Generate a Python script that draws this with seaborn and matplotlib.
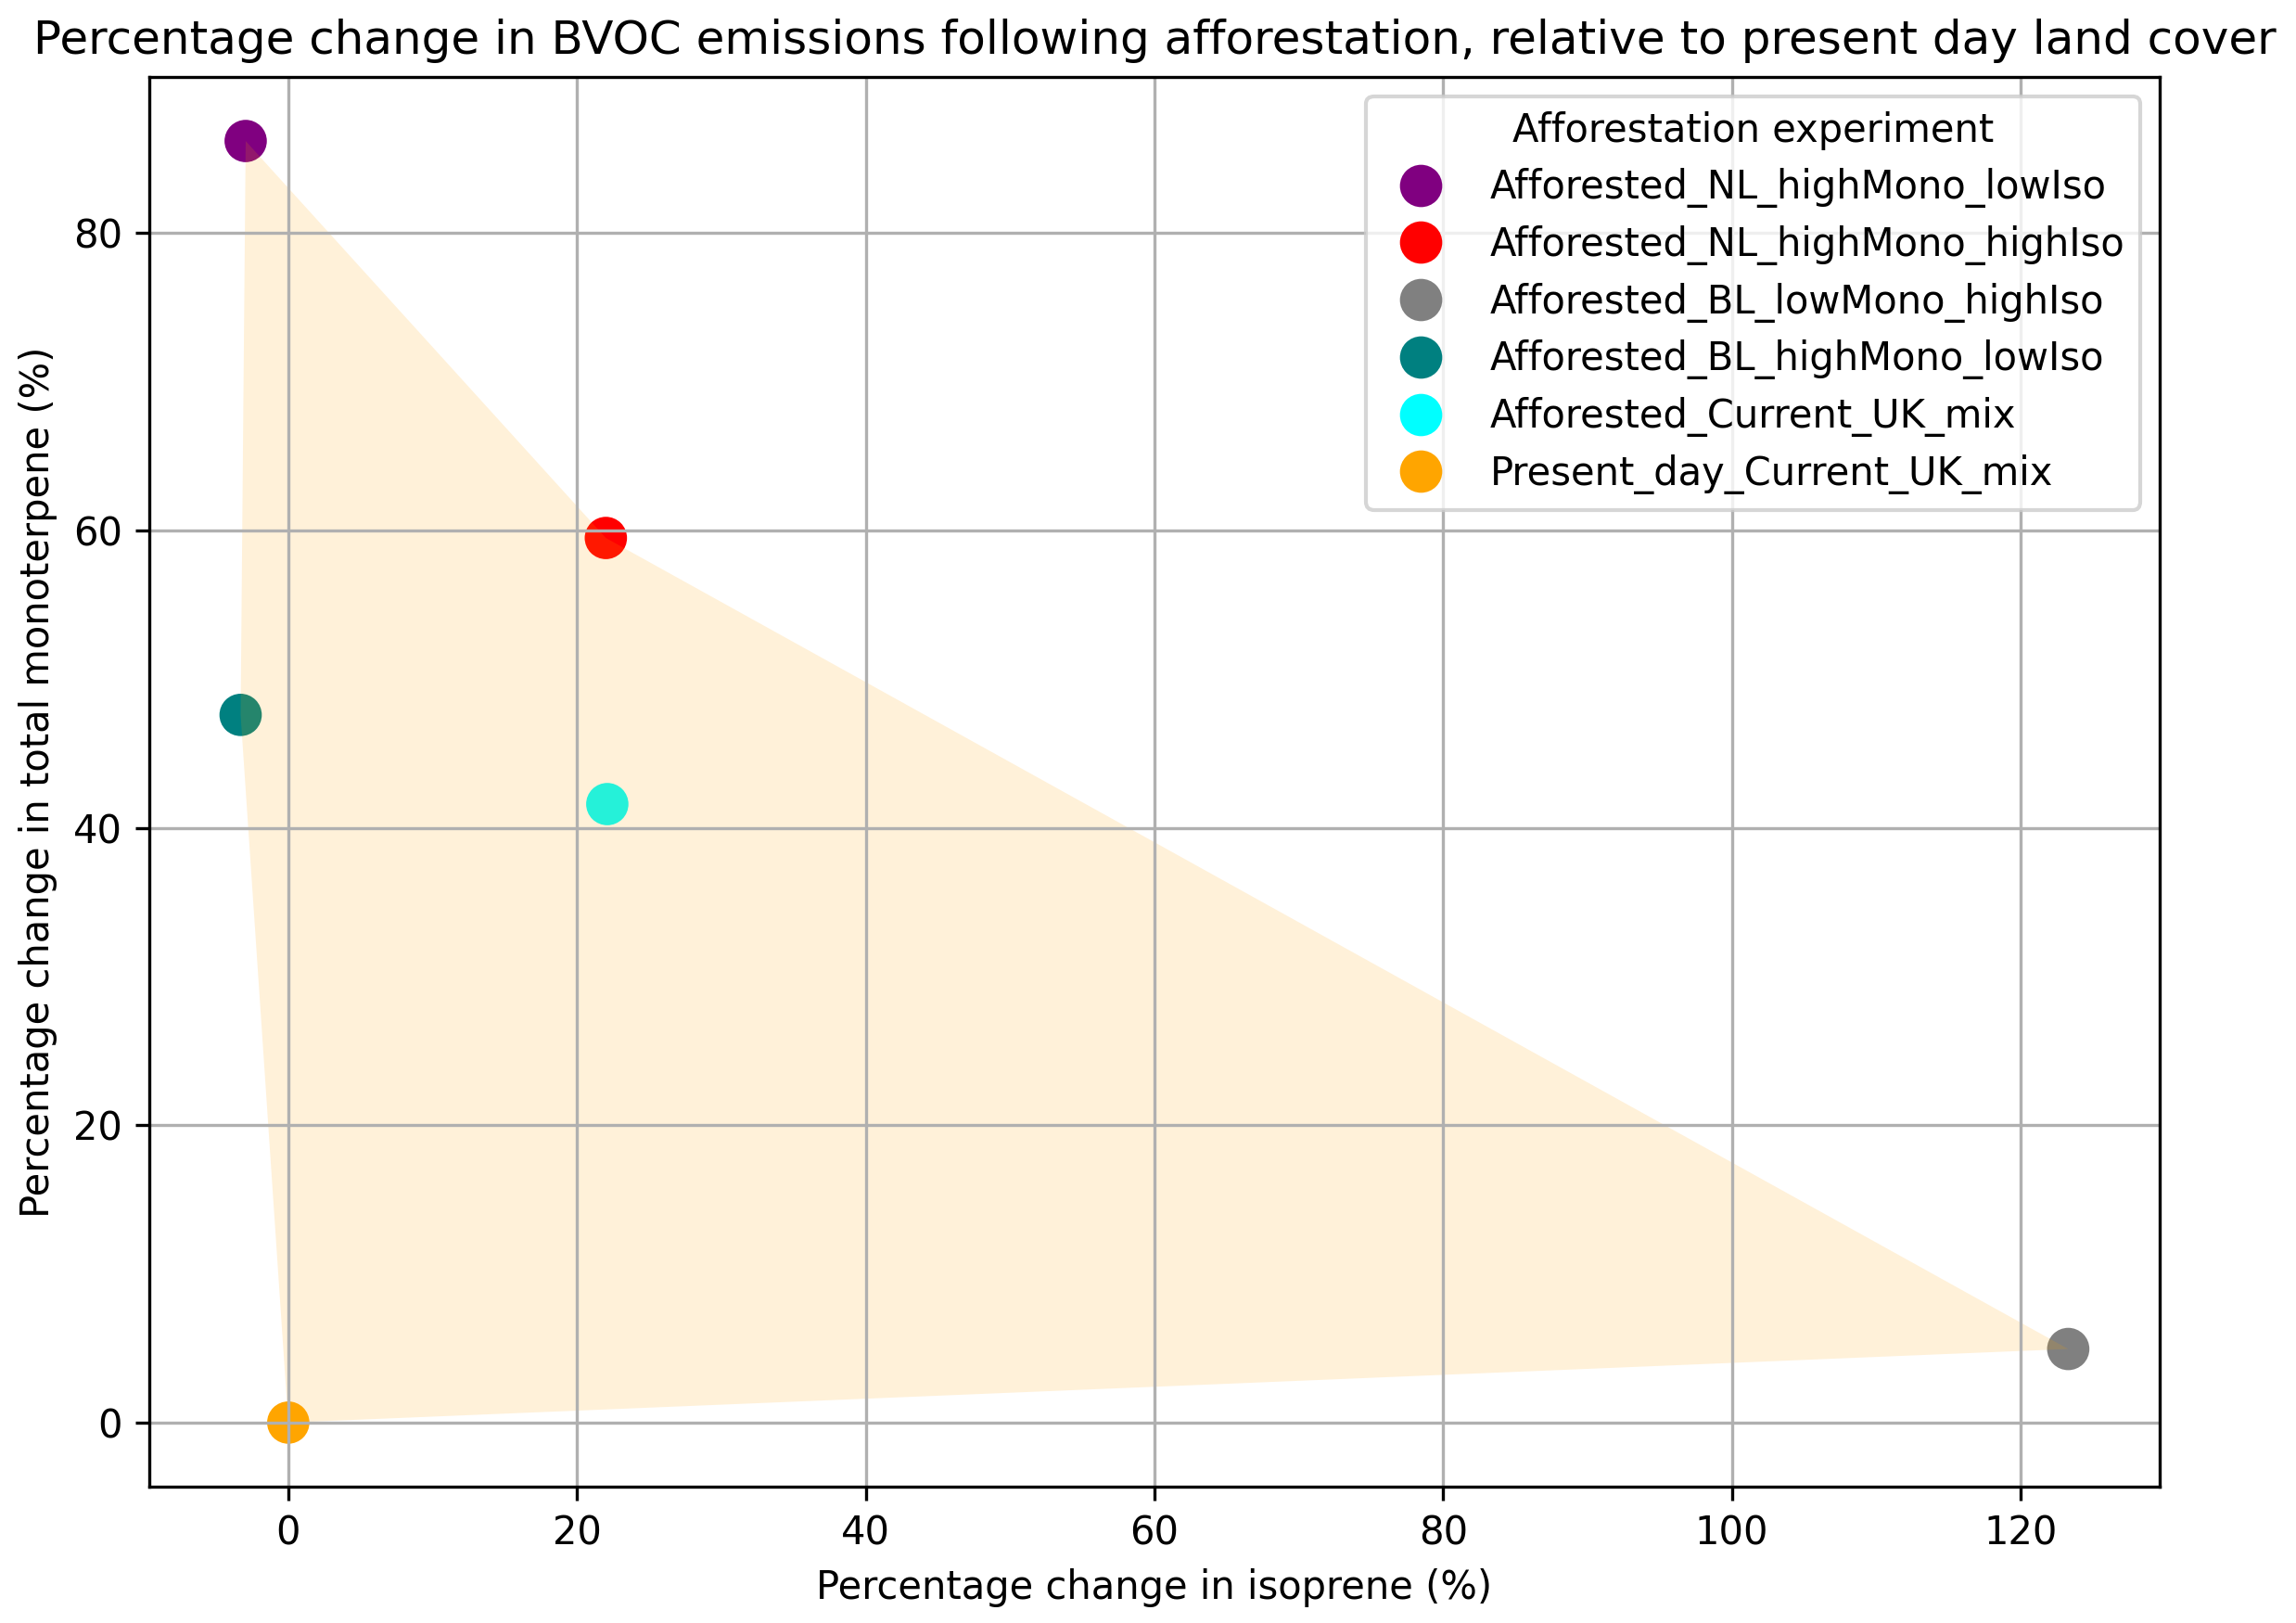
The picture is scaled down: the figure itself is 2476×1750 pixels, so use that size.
import numpy as np
import pandas as pd
import seaborn as sns
import matplotlib.pyplot as plt

experiments = ['Afforested_NL_highMono_lowIso', 'Afforested_NL_highMono_highIso',
               'Afforested_BL_lowMono_highIso', 'Afforested_BL_highMono_lowIso',
               'Afforested_Current_UK_mix', 'Present_day_Current_UK_mix']
isoprene_change = [-2.95, 22.0, 123.3, -3.3, 22.1, 0.0]
monoterpene_change = [86.2, 59.5, 4.95, 47.6, 41.6, 0.0]
colors = ['purple', 'red', 'grey', 'teal', 'cyan', 'orange']

# outline of the shaded region, as experiment order
region_order = ['Afforested_NL_highMono_lowIso', 'Afforested_NL_highMono_highIso',
                'Afforested_BL_lowMono_highIso', 'Present_day_Current_UK_mix',
                'Afforested_BL_highMono_lowIso']

df = pd.DataFrame({'Afforestation experiment': experiments,
                   'isoprene': isoprene_change,
                   'monoterpene': monoterpene_change})

fig, ax = plt.subplots(figsize=(2476 / 300, 1750 / 300), dpi=300)
fig.subplots_adjust(left=0.065, right=0.9406, bottom=0.084, top=0.9526)

sns.scatterplot(data=df, x='isoprene', y='monoterpene', hue='Afforestation experiment',
                palette=dict(zip(experiments, colors)), s=120, linewidth=0, ax=ax)

poly = df.set_index('Afforestation experiment').loc[region_order]
ax.fill(poly['isoprene'].values, poly['monoterpene'].values,
        color='orange', alpha=0.15, linewidth=0)

ax.grid(True)
ax.set_title('Percentage change in BVOC emissions following afforestation, '
             'relative to present day land cover', fontsize=12)
ax.set_xlabel('Percentage change in isoprene (%)')
ax.set_ylabel('Percentage change in total monoterpene (%)')
sns.move_legend(ax, 'upper right', title='Afforestation experiment', labelspacing=0.45)

fig.savefig('out.png', dpi=300)
